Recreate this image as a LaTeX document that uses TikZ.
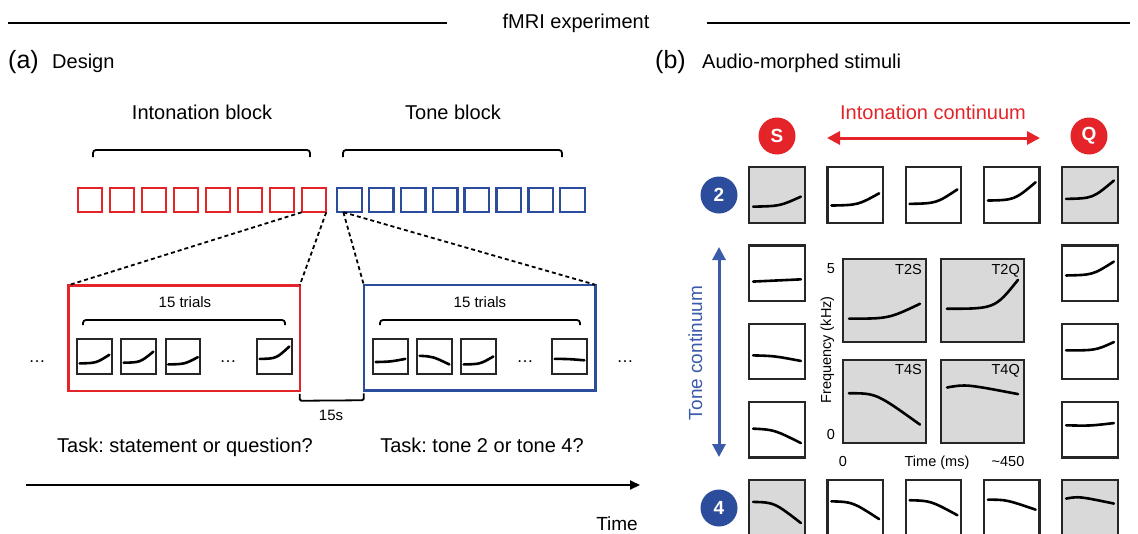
\documentclass[tikz,border=0pt]{standalone}
\usepackage{fontspec}
\setmainfont{Liberation Sans}
\usetikzlibrary{arrows.meta,calc}
\frenchspacing

\definecolor{ired}{RGB}{228,36,40}
\definecolor{tblue}{RGB}{44,76,156}
\definecolor{lblue}{RGB}{60,90,170}
\definecolor{boxgray}{RGB}{217,217,217}

\newcommand\fs[1]{\fontsize{#1}{#1}\selectfont}

% 音高曲線 [制御点x]{ノード}{サイズ}{始点y}{制御点y}{終点y}
\newcommand\contour[6][0.5]{%
  \begin{scope}[shift={(#2.south west)}, x=#3pt, y=#3pt]
    \draw[pitch] (0.07,#4) .. controls (#1,#5) .. (0.93,#6);
  \end{scope}}

\begin{document}
\begin{tikzpicture}[x=1pt, y=-1pt,
    lbl/.style={font=\fs{20}, anchor=base, inner sep=0},
    rsq/.style={draw=ired, line width=2.4pt, minimum size=24.5pt, inner sep=0, outer sep=0},
    bsq/.style={rsq, draw=tblue},
    trial/.style={draw=black!85, line width=2.3pt, minimum size=34.5pt, inner sep=0, outer sep=0},
    cell/.style={draw=black!85, line width=2.3pt, minimum size=55.5pt, inner sep=0, outer sep=0},
    big/.style={cell, fill=boxgray, minimum size=82.5pt},
    blockbox/.style={draw=#1, line width=2.5pt, minimum width=231.5pt, minimum height=105.5pt, outer sep=0},
    pitch/.style={line width=2.6pt, line cap=round},
    brace/.style={line width=1.8pt, rounded corners=3pt},
    dashline/.style={line width=1.8pt, dash pattern=on 4pt off 3pt},
    badge/.style={circle, fill=#1, text=white, font=\fs{19}\bfseries, minimum size=37pt, inner sep=0},
    bigtip/.tip={Triangle[length=13pt, width=13pt]}]

\useasboundingbox (0,0) rectangle (1138,533);
\clip (0,0) rectangle (1138,533);

%========================
% 見出し
%========================
\node[lbl] (title) at (576,28) {fMRI experiment};
\draw[line width=1.6pt] (8,23) -- (447,23);
\draw[line width=1.6pt] (707,23) -- (1130,23);

\node[lbl, anchor=base west, font=\fs{25}] (pa) at (8,68) {(a)};
\node[lbl, anchor=base west] (design) at (52,68) {Design};
\node[lbl, anchor=base west, font=\fs{25}] (pb) at (655,68) {(b)};
\node[lbl, anchor=base west] (stim) at (702,68) {Audio-morphed stimuli};

%========================
% (a) ブロック列
%========================
\node[lbl] (intb) at (202,119) {Intonation block};
\node[lbl] (toneb) at (453,119) {Tone block};
\draw[brace] (93,157) -- (93,150) -- (310,150) -- (310,157);
\draw[brace] (343,157) -- (343,150) -- (562,150) -- (562,157);

\foreach \i in {1,...,8}{
  \node[rsq] (r\i) at ({90+32*(\i-1)},200) {};
  \node[bsq] (b\i) at ({349.5+31.85*(\i-1)},200) {};
}

%========================
% 試行の拡大
%========================
\node[blockbox=ired] (tbi) at (184,338) {};
\node[blockbox=tblue] (tbt) at (479.5,337.5) {};

\draw[dashline] (r8.south west) -- (tbi.north west);
\draw[dashline] (r8.south east) -- (tbi.north east);
\coordinate (bsplit) at ($(b1.south west)!0.25!(b1.south east)$);
\draw[dashline] (bsplit) -- (tbt.north west);
\draw[dashline] (bsplit) -- (tbt.north east);

\node[lbl, font=\fs{15}] (ni) at (185,307) {15 trials};
\node[lbl, font=\fs{15}] (nt) at (480,307) {15 trials};
\draw[brace] (83,325) -- (83,320) -- (285,320) -- (285,325);
\draw[brace] (380,325) -- (380,320) -- (580,320) -- (580,325);

\foreach \n/\x in {1/94.5, 2/138.5, 3/183, 4/274.5}
  \node[trial] (ti\n) at (\x,356.5) {};
\foreach \n/\x in {1/390.5, 2/434.5, 3/478.5, 4/569.5}
  \node[trial] (tt\n) at (\x,356.5) {};

\contour[0.55]{ti1}{34.5}{0.30}{0.31}{0.55}
\contour[0.55]{ti2}{34.5}{0.32}{0.33}{0.64}
\contour[0.55]{ti3}{34.5}{0.27}{0.28}{0.48}
\contour[0.55]{ti4}{34.5}{0.43}{0.44}{0.79}
\contour{tt1}{34.5}{0.34}{0.35}{0.43}
\contour[0.45]{tt2}{34.5}{0.52}{0.50}{0.27}
\contour[0.55]{tt3}{34.5}{0.27}{0.28}{0.50}
\contour[0.45]{tt4}{34.5}{0.43}{0.43}{0.39}

\foreach \x in {37,228,525,625}
  \node[lbl, font=\fs{17}] at (\x,362) {\dots};

% 休止 15s
\draw[brace, rounded corners=1.5pt] ([yshift=-3pt]tbi.south east) -- ([yshift=-10pt]tbi.south east)
    -- ([yshift=-10pt]tbt.south west) -- ([yshift=-3pt]tbt.south west);
\node[lbl, font=\fs{15}] (gap) at (331,420) {15s};

\node[lbl] (taski) at (185,452) {Task: statement or question?};
\node[lbl] (taskt) at (482,452) {Task: tone 2 or tone 4?};

%========================
% 時間軸
%========================
\coordinate (t0) at (26,485);
\coordinate (t1) at (640,485);
\draw[line width=2pt, -{Triangle[length=10pt, width=9pt]}] (t0) -- (t1);
\node[lbl, anchor=base east, font=\fs{19}] (time) at (638,530) {Time};

%========================
% (b) 連続体
%========================
\node[badge=ired] (S) at (777,136) {S};
\node[badge=ired] (Q) at (1089,136) {Q};
\node[badge=tblue] (T2) at (719,195) {2};
\node[badge=tblue] (T4) at (719,508) {4};

\node[lbl, text=ired] (intc) at (933,119) {Intonation continuum};
\coordinate (ic-l) at (827,138);
\coordinate (ic-r) at (1040,138);
\draw[ired, line width=3pt, {bigtip}-{bigtip}] (ic-l) -- (ic-r);

\coordinate (tc-t) at (719,247);
\coordinate (tc-b) at (719,457);
\draw[lblue, line width=3pt, {bigtip}-{bigtip}] (tc-t) -- (tc-b);
\node[lbl, text=lblue, font=\fs{19}, rotate=90] (tonec) at (702,353) {Tone continuum};

%========================
% 刺激グリッド
%========================
\foreach \j/\i/\f/\k/\a/\b/\c in {
    0/0/boxgray/0.55/0.29/0.30/0.47,
    0/1/white/0.55/0.31/0.32/0.53,
    0/2/white/0.55/0.34/0.35/0.60,
    0/3/white/0.55/0.40/0.41/0.73,
    0/4/boxgray/0.55/0.43/0.44/0.76,
    1/0/white/0.5/0.35/0.36/0.39,
    2/0/white/0.45/0.43/0.42/0.33,
    3/0/white/0.45/0.52/0.50/0.26,
    4/0/boxgray/0.45/0.61/0.60/0.23,
    4/1/white/0.45/0.62/0.61/0.30,
    4/2/white/0.45/0.64/0.63/0.37,
    4/3/white/0.4/0.65/0.65/0.47,
    4/4/boxgray/0.3/0.67/0.71/0.58,
    1/4/white/0.55/0.46/0.47/0.71,
    2/4/white/0.6/0.52/0.52/0.67,
    3/4/white/0.5/0.58/0.57/0.62}{
  \node[cell, fill=\f] (c-\j-\i) at ({777+78.25*\i},{195+78.25*\j}) {};
  \contour[\k]{c-\j-\i}{55.5}{\a}{\b}{\c}
}

% 中央の拡大図
\node[big] (t2s) at (884.5,300.5) {};
\node[big] (t2q) at (982.5,300.5) {};
\node[big] (t4s) at (884.5,401.5) {};
\node[big] (t4q) at (982.5,401.5) {};
\contour[0.55]{t2s}{82.5}{0.28}{0.28}{0.46}
\contour[0.65]{t2q}{82.5}{0.40}{0.40}{0.75}
\contour[0.4]{t4s}{82.5}{0.60}{0.60}{0.22}
\contour[0.3]{t4q}{82.5}{0.67}{0.71}{0.59}

\node[lbl, anchor=base east, font=\fs{14.5}] at (922,274) {T2S};
\node[lbl, anchor=base east, font=\fs{14.5}] at (1020,274) {T2Q};
\node[lbl, anchor=base east, font=\fs{14.5}] at (922,374) {T4S};
\node[lbl, anchor=base east, font=\fs{14.5}] at (1020,374) {T4Q};

\node[lbl, font=\fs{14.5}] (y5) at (831,273) {5};
\node[lbl, font=\fs{14.5}] (y0) at (831,439) {0};
\node[lbl, font=\fs{14.5}, rotate=90] (ylab) at (831,350) {Frequency (kHz)};
\node[lbl, font=\fs{14.5}] (x0) at (843,466) {0};
\node[lbl, font=\fs{14.5}] (xlab) at (937,466) {Time (ms)};
\node[lbl, font=\fs{14.5}] (x450) at (1008,466) {\textasciitilde450};

\end{tikzpicture}
\end{document}
